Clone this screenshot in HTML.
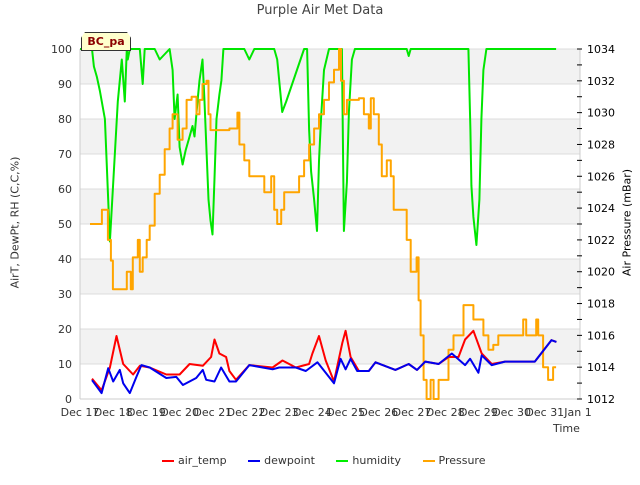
<!DOCTYPE html>
<html><head><meta charset="utf-8"><style>
body{margin:0;background:#fff;font-family:"Liberation Sans","DejaVu Sans",sans-serif;}
svg text{font-family:"DejaVu Sans","Liberation Sans",sans-serif;}
</style></head><body>
<svg id="chart" width="640" height="480" xmlns="http://www.w3.org/2000/svg"></svg>
<script>
// ---- data (day offset from Dec 17, value) ----
const xTickLabels=["Dec 17","Dec 18","Dec 19","Dec 20","Dec 21","Dec 22","Dec 23","Dec 24","Dec 25","Dec 26","Dec 27","Dec 28","Dec 29","Dec 30","Dec 31","Jan 1"];
const leftTicks=[0,10,20,30,40,50,60,70,80,90,100];
const rightTicks=[1012,1014,1016,1018,1020,1022,1024,1026,1028,1030,1032,1034];
const tempDays=[0.36,0.65,0.9,1.1,1.3,1.6,1.8,2.1,2.6,3.0,3.3,3.7,3.95,4.05,4.2,4.4,4.5,4.7,5.1,5.8,6.1,6.5,6.9,7.0,7.2,7.4,7.65,7.9,8.0,8.15,8.4,8.7,8.9,9.5,9.9,10.15,10.4,10.8,11.1,11.4,11.6,11.85,12.1,12.4,12.8,13.7,14.2,14.35];
const tempVals=[5.8,2.5,9,18,10,7,9.5,9,7,7,10,9.5,12,17,13,12,8,5.5,9.7,9,11,9,10,13,18,11,5,16,19.5,12,8,8,10.5,8.3,10,8.3,10.7,10,12,12,17,19.5,13,10,10.7,10.7,16.8,16.3];
const dewDays=[0.36,0.65,0.85,1.0,1.2,1.3,1.5,1.7,1.85,2.1,2.6,2.9,3.1,3.5,3.7,3.8,4.05,4.25,4.5,4.7,5.1,5.5,5.8,6.0,6.5,6.8,7.15,7.4,7.65,7.85,8.0,8.15,8.35,8.7,8.9,9.5,9.9,10.15,10.4,10.8,11.2,11.6,11.75,12.0,12.1,12.4,12.8,13.7,14.2,14.35];
const dewVals=[5.4,1.7,8.8,5,8.3,4.5,1.7,6.3,9.7,9,6,6.3,4,6,8.3,5.5,5,9,5,5,9.7,9,8.5,9,9,8,10.5,7.5,4.5,11.5,8.5,11.5,8,8,10.5,8.3,10,8.3,10.7,10,13,9.7,11.5,7.5,12.5,9.7,10.7,10.7,16.8,16.3];
const humDays=[0,0.36,0.42,0.51,0.6,0.75,0.9,1.14,1.2,1.26,1.35,1.41,1.44,1.5,1.8,1.89,1.95,2.25,2.4,2.7,2.79,2.85,2.94,3.0,3.09,3.18,3.3,3.39,3.45,3.54,3.6,3.69,3.75,3.81,3.87,3.93,3.99,4.05,4.11,4.2,4.26,4.32,4.95,5.1,5.25,5.55,5.85,5.94,6.09,6.21,6.75,6.84,6.9,6.96,7.05,7.14,7.2,7.26,7.35,7.5,7.89,7.95,8.04,8.1,8.19,8.28,9.84,9.9,9.96,11.7,11.76,11.79,11.85,11.94,12.03,12.09,12.15,12.24,14.34];
const humVals=[100,100,95,92,88,80,45,85,91,97,85,100,97,100,100,90,100,100,97,100,94,80,87,72,67,71,75,78,75,85,91,97,85,71,57,51,47,63,80,87,91,100,100,97,100,100,100,97,82,85,100,100,77,65,57,48,68,80,94,100,100,48,62,82,97,100,100,98,100,100,77,61,52,44,57,80,94,100,100];
const presDays=[0.30,0.60,0.66,0.78,0.84,0.93,0.99,1.35,1.41,1.50,1.53,1.59,1.74,1.80,1.89,2.01,2.10,2.25,2.40,2.55,2.70,2.79,2.94,3.09,3.21,3.36,3.51,3.60,3.69,3.81,3.87,3.93,4.50,4.74,4.80,4.95,5.10,5.46,5.55,5.70,5.76,5.85,5.94,6.06,6.15,6.45,6.60,6.75,6.90,7.05,7.20,7.35,7.50,7.65,7.80,7.86,7.95,8.04,8.40,8.55,8.70,8.76,8.85,9.00,9.09,9.24,9.36,9.45,9.75,9.84,9.96,10.14,10.20,10.26,10.35,10.44,10.56,10.65,10.80,11.10,11.25,11.55,11.70,11.85,12.00,12.15,12.30,12.45,12.60,13.20,13.35,13.44,13.74,13.80,13.95,14.10,14.25,14.34];
const presVals=[1023.0,1023.0,1023.9,1023.9,1022.0,1020.7,1018.9,1018.9,1020.0,1020.0,1018.9,1020.9,1022.0,1020.0,1020.9,1022.0,1022.9,1024.9,1026.1,1027.7,1029.0,1029.9,1028.3,1029.0,1030.8,1031.0,1029.9,1030.8,1031.8,1032.0,1029.9,1028.9,1029.0,1030.0,1028.0,1027.0,1026.0,1026.0,1025.0,1025.0,1026.0,1023.9,1023.0,1023.9,1025.0,1025.0,1026.0,1027.0,1028.0,1029.0,1029.9,1030.8,1031.9,1032.7,1034.0,1032.0,1029.9,1030.8,1030.9,1029.9,1029.0,1030.9,1029.9,1028.0,1026.0,1027.0,1026.0,1023.9,1023.9,1022.0,1020.0,1020.9,1018.2,1016.0,1013.2,1012.0,1013.2,1012.0,1013.2,1015.1,1016.0,1017.9,1017.9,1017.0,1017.0,1016.0,1015.1,1015.4,1016.0,1016.0,1017.0,1016.0,1017.0,1016.0,1014.0,1013.2,1014.0,1014.0];

const L=80,R=580,T=49,B=399;
const xs=d=>L+d*(498/15);
const yl=v=>B-(v/100)*(B-T);
const yr=p=>B-((p-1012)/22)*(B-T);
const svg=document.getElementById('chart');
const NS="http://www.w3.org/2000/svg";
function mk(tag,attrs,parent){const e=document.createElementNS(NS,tag);for(const k in attrs)e.setAttribute(k,attrs[k]);(parent||svg).appendChild(e);return e;}

for(let v=10;v<100;v+=20){const r=mk('rect',{x:L,y:yl(v+10),width:R-L,height:yl(v)-yl(v+10),fill:'#f2f2f2'});

}
leftTicks.forEach(v=>{const g=mk('line',{x1:L,x2:R,y1:yl(v),y2:yl(v),stroke:'#dcdcdc','stroke-width':1});


const t=mk('text',{x:L-8,y:yl(v)+4,'text-anchor':'end','font-size':11,fill:'#333'});t.textContent=v;

});
mk('line',{x1:L,x2:L,y1:T,y2:B,stroke:'#ccc'});
mk('line',{x1:L,x2:R,y1:B,y2:B,stroke:'#ccc'});
mk('line',{x1:R,x2:R,y1:T,y2:B,stroke:'#ccc'});
for(let p=1012;p<=1034;p++){mk('line',{x1:R-3,x2:R+2,y1:yr(p),y2:yr(p),stroke:'#000'});}
rightTicks.forEach(p=>{const t=mk('text',{x:R+7,y:yr(p)+4,'font-size':11,fill:'#000'});t.textContent=p;

});
xTickLabels.forEach((s,i)=>{const t=mk('text',{x:xs(i),y:B+17,'text-anchor':'middle','font-size':11,fill:'#333'});t.textContent=s;

});

function line(days,vals,yf,color,name,step){
 let d='';
 days.forEach((x,i)=>{
  const X=xs(x).toFixed(1),Y=yf(vals[i]).toFixed(1);
  if(i===0){d+='M'+X+','+Y;}
  else if(step){d+='L'+X+','+yf(vals[i-1]).toFixed(1)+'L'+X+','+Y;}
  else{d+='L'+X+','+Y;}
 });
 const p=mk('path',{d:d,fill:'none',stroke:color,'stroke-width':2,'stroke-linejoin':'round'});
 
 
}
line(humDays,humVals,yl,'#00e600','humidity-line',false);
line(presDays,presVals,yr,'#ffa500','pressure-line',true);
line(tempDays,tempVals,yl,'#ff0000','air-temp-line',false);
line(dewDays,dewVals,yl,'#0000ee','dewpoint-line',false);
</script>
<div style="position:absolute;left:0;top:3px;width:640px;text-align:center;font-size:13px;color:#444;font-family:'DejaVu Sans',sans-serif;">Purple Air Met Data</div>
<div style="position:absolute;left:81px;top:32px;width:48px;height:17px;background:#ffffcc;border:1px solid #333;clip-path:polygon(8% 0,92% 0,100% 30%,100% 100%,0 100%,0 30%);font-size:11px;font-weight:bold;color:#8b0000;text-align:center;line-height:18px;font-family:'DejaVu Sans',sans-serif;">BC_pa</div>
<div style="position:absolute;left:-85px;top:216px;width:200px;text-align:center;transform:rotate(-90deg);font-size:11px;color:#333;font-family:'DejaVu Sans',sans-serif;">AirT, DewPt, RH (C,C,%)</div>
<div style="position:absolute;left:527px;top:216px;width:200px;text-align:center;transform:rotate(-90deg);font-size:11px;color:#000;font-family:'DejaVu Sans',sans-serif;">Air Pressure (mBar)</div>
<div style="position:absolute;left:553px;top:422px;font-size:11px;color:#333;font-family:'DejaVu Sans',sans-serif;">Time</div>
<div style="position:absolute;left:162px;top:454px;font-size:11px;color:#333;font-family:'DejaVu Sans',sans-serif;white-space:nowrap;">
<span><span style="display:inline-block;width:12px;height:2px;background:#f00;vertical-align:middle;margin-right:4px"></span>air_temp</span>
<span style="margin-left:18px"><span style="display:inline-block;width:12px;height:2px;background:#00e;vertical-align:middle;margin-right:4px"></span>dewpoint</span>
<span style="margin-left:18px"><span style="display:inline-block;width:12px;height:2px;background:#0e0;vertical-align:middle;margin-right:4px"></span>humidity</span>
<span style="margin-left:18px"><span style="display:inline-block;width:12px;height:2px;background:#ffa500;vertical-align:middle;margin-right:4px"></span>Pressure</span>
</div>
</body></html>
